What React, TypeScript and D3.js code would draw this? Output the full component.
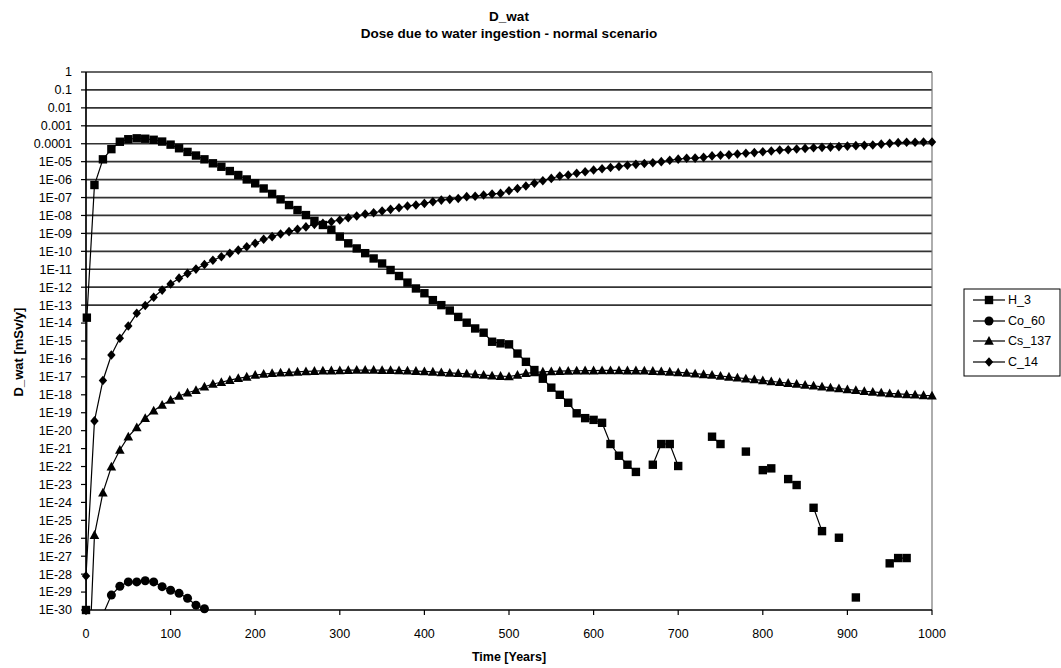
import React from 'react';
import * as d3 from 'd3';

// time axis, one row every 10 years
const years = [
  0, 10, 20, 30, 40, 50, 60, 70, 80, 90,
  100, 110, 120, 130, 140, 150, 160, 170, 180, 190,
  200, 210, 220, 230, 240, 250, 260, 270, 280, 290,
  300, 310, 320, 330, 340, 350, 360, 370, 380, 390,
  400, 410, 420, 430, 440, 450, 460, 470, 480, 490,
  500, 510, 520, 530, 540, 550, 560, 570, 580, 590,
  600, 610, 620, 630, 640, 650, 660, 670, 680, 690,
  700, 710, 720, 730, 740, 750, 760, 770, 780, 790,
  800, 810, 820, 830, 840, 850, 860, 870, 880, 890,
  900, 910, 920, 930, 940, 950, 960, 970, 980, 990,
  1000,
];

// H_3 has one extra early point (year 1)
const h3EarlyYear = 1;
const h3EarlyValue = 2e-14;

const h3 = [
  1e-30, 5.0e-7, 1.35e-5, 5.0e-5, 1.29e-4, 1.78e-4, 2.0e-4, 1.9e-4, 1.66e-4, 1.32e-4,
  8.9e-5, 5.6e-5, 3.5e-5, 2.2e-5, 1.35e-5, 8.1e-6, 5.2e-6, 3.0e-6, 1.8e-6, 1.02e-6,
  6.2e-7, 3.2e-7, 1.6e-7, 7.9e-8, 3.8e-8, 2.0e-8, 1.05e-8, 5.0e-9, 2.95e-9, 1.6e-9,
  6.6e-10, 2.8e-10, 1.45e-10, 7.9e-11, 4.0e-11, 2.1e-11, 9.1e-12, 4.2e-12, 1.8e-12, 8.5e-13,
  4.6e-13, 1.9e-13, 1.0e-13, 5.0e-14, 2.2e-14, 1.05e-14, 5.0e-15, 2.9e-15, 9.1e-16, 7.4e-16,
  6.5e-16, 2.0e-16, 6.9e-17, 2.4e-17, 7.9e-18, 2.5e-18, 1.0e-18, 3.6e-19, 9.3e-20, 5.0e-20,
  4.0e-20, 2.75e-20, 1.8e-21, 4.0e-22, 1.26e-22, 5.0e-23, null, 1.26e-22, 1.8e-21, 1.8e-21,
  1.07e-22, null, null, null, 4.6e-21, 1.8e-21, null, null, 6.8e-22, null,
  6.3e-23, 7.9e-23, null, 2.0e-23, 9.3e-24, null, 5.0e-25, 2.5e-26, null, 1.07e-26,
  null, 5.0e-30, null, null, null, 4.0e-28, 7.9e-28, 7.9e-28, null, null,
  null,
];

const co60 = [
  null, null, 5.6e-31, 6.8e-30, 2.1e-29, 3.7e-29, 3.7e-29, 4.3e-29, 3.7e-29, 2.0e-29,
  1.26e-29, 8.5e-30, 4.5e-30, 1.86e-30, 1.17e-30, 4.0e-31, null, null, null, null,
  null, null, null, null, null, null, null, null, null, null,
  null, null, null, null, null, null, null, null, null, null,
  null, null, null, null, null, null, null, null, null, null,
  null, null, null, null, null, null, null, null, null, null,
  null, null, null, null, null, null, null, null, null, null,
  null, null, null, null, null, null, null, null, null, null,
  null, null, null, null, null, null, null, null, null, null,
  null, null, null, null, null, null, null, null, null, null,
  null,
];

const cs137 = [
  1e-37, 1.5e-26, 3.5e-24, 9.8e-23, 8.3e-22, 4.6e-21, 1.5e-20, 4.9e-20, 1.3e-19, 2.7e-19,
  5.1e-19, 8.5e-19, 1.3e-18, 1.8e-18, 2.8e-18, 4.0e-18, 5.0e-18, 6.6e-18, 8.3e-18, 1.0e-17,
  1.26e-17, 1.45e-17, 1.58e-17, 1.7e-17, 1.78e-17, 1.9e-17, 2.0e-17, 2.1e-17, 2.2e-17, 2.24e-17,
  2.3e-17, 2.35e-17, 2.4e-17, 2.4e-17, 2.4e-17, 2.35e-17, 2.35e-17, 2.3e-17, 2.2e-17, 2.1e-17,
  2.0e-17, 1.9e-17, 1.78e-17, 1.66e-17, 1.58e-17, 1.48e-17, 1.38e-17, 1.26e-17, 1.17e-17, 1.1e-17,
  1.05e-17, 1.26e-17, 1.58e-17, 1.78e-17, 1.9e-17, 2.0e-17, 2.1e-17, 2.15e-17, 2.2e-17, 2.24e-17,
  2.24e-17, 2.3e-17, 2.3e-17, 2.3e-17, 2.24e-17, 2.24e-17, 2.2e-17, 2.1e-17, 2.0e-17, 1.9e-17,
  1.78e-17, 1.66e-17, 1.51e-17, 1.38e-17, 1.26e-17, 1.12e-17, 1.0e-17, 8.9e-18, 7.9e-18, 7.1e-18,
  6.3e-18, 5.6e-18, 5.0e-18, 4.5e-18, 4.0e-18, 3.5e-18, 3.2e-18, 2.8e-18, 2.5e-18, 2.24e-18,
  2.0e-18, 1.78e-18, 1.58e-18, 1.45e-18, 1.32e-18, 1.2e-18, 1.12e-18, 1.05e-18, 1.0e-18, 9.3e-19,
  8.9e-19,
];

const c14 = [
  7.9e-29, 3.5e-20, 6.3e-18, 1.66e-16, 1.41e-15, 6.8e-15, 3.5e-14, 9.5e-14, 2.75e-13, 6.9e-13,
  1.5e-12, 3.2e-12, 5.9e-12, 1.02e-11, 1.86e-11, 3.2e-11, 5.0e-11, 7.8e-11, 1.17e-10, 1.8e-10,
  2.8e-10, 4.7e-10, 6.6e-10, 9.3e-10, 1.26e-9, 1.7e-9, 2.3e-9, 3.2e-9, 3.6e-9, 4.5e-9,
  5.6e-9, 7.4e-9, 9.3e-9, 1.2e-8, 1.41e-8, 1.78e-8, 2.2e-8, 2.7e-8, 3.4e-8, 3.8e-8,
  4.7e-8, 5.9e-8, 7.2e-8, 7.9e-8, 8.9e-8, 1.12e-7, 1.17e-7, 1.38e-7, 1.58e-7, 1.7e-7,
  2.4e-7, 3.2e-7, 4.4e-7, 6.2e-7, 8.7e-7, 1.17e-6, 1.58e-6, 1.8e-6, 2.24e-6, 2.75e-6,
  3.4e-6, 4.0e-6, 4.7e-6, 5.4e-6, 6.3e-6, 7.1e-6, 7.9e-6, 8.7e-6, 1.0e-5, 1.2e-5,
  1.38e-5, 1.55e-5, 1.58e-5, 1.74e-5, 2.1e-5, 2.3e-5, 2.4e-5, 2.7e-5, 2.95e-5, 3.2e-5,
  3.6e-5, 3.9e-5, 4.5e-5, 4.6e-5, 5.1e-5, 5.5e-5, 6.0e-5, 6.3e-5, 6.5e-5, 6.9e-5,
  7.4e-5, 7.8e-5, 8.1e-5, 8.5e-5, 9.5e-5, 1.05e-4, 1.15e-4, 1.2e-4, 1.2e-4, 1.26e-4,
  1.26e-4,
];

const seriesNames = ['H_3', 'Co_60', 'Cs_137', 'C_14'];

const yTickLabels = [
  '1', '0.1', '0.01', '0.001', '0.0001', '1E-05', '1E-06', '1E-07', '1E-08', '1E-09',
  '1E-10', '1E-11', '1E-12', '1E-13', '1E-14', '1E-15', '1E-16', '1E-17', '1E-18', '1E-19',
  '1E-20', '1E-21', '1E-22', '1E-23', '1E-24', '1E-25', '1E-26', '1E-27', '1E-28', '1E-29',
  '1E-30',
];
const xTicks = [0, 100, 200, 300, 400, 500, 600, 700, 800, 900, 1000];

const W = 1061;
const H = 668;
const margin = { left: 86, right: 932, top: 72, bottom: 610 };
const font = '"Liberation Sans", Arial, sans-serif';

type Pt = { t: number; v: number | null };

const Marker = ({ kind, x, y }: { kind: number; x: number; y: number }) => {
  if (kind === 0) return <rect x={x - 4.2} y={y - 4.2} width={8.4} height={8.4} fill="#000" />;
  if (kind === 1) return <circle cx={x} cy={y} r={4.5} fill="#000" />;
  if (kind === 2)
    return <path d={`M${x},${y - 5}L${x + 4.8},${y + 3.8}L${x - 4.8},${y + 3.8}Z`} fill="#000" />;
  return <path d={`M${x},${y - 4.8}L${x + 4.2},${y}L${x},${y + 4.8}L${x - 4.2},${y}Z`} fill="#000" />;
};

export default function App() {
  const x = d3.scaleLinear().domain([0, 1000]).range([margin.left, margin.right]);
  const y = d3.scaleLog().domain([1e-30, 1]).range([margin.bottom, margin.top]);

  const toPts = (vals: (number | null)[]): Pt[] => years.map((t, i) => ({ t, v: vals[i] }));
  const h3Pts = toPts(h3);
  h3Pts.splice(1, 0, { t: h3EarlyYear, v: h3EarlyValue });
  const series: Pt[][] = [h3Pts, toPts(co60), toPts(cs137), toPts(c14)];

  const line = d3
    .line<Pt>()
    .defined((d) => d.v !== null && d.v > 0)
    .x((d) => x(d.t))
    .y((d) => y(d.v as number));

  // horizontal grid only runs from 1 down to 1E-13
  const gridVals = yTickLabels.slice(0, 14).map((_, i) => Math.pow(10, -i));
  const tickVals = yTickLabels.map((_, i) => Math.pow(10, -i));

  const legendX = 964;
  const legendY = 289;
  const legendRows = [300, 321, 341, 362];

  return (
    <svg
      width={W}
      height={H}
      style={{ position: 'fixed', left: 0, top: 0, background: '#fff' }}
      fontFamily={font}
    >
      <rect width={W} height={H} fill="#fff" />
      <defs>
        <clipPath id="plot-clip">
          <rect
            x={margin.left}
            y={margin.top - 6}
            width={margin.right - margin.left}
            height={margin.bottom - margin.top + 6}
          />
        </clipPath>
      </defs>

      {/* title */}
      <text x={509} y={21} textAnchor="middle" fontSize={13.5} fontWeight="bold">
        D_wat
      </text>
      <text x={509} y={38} textAnchor="middle" fontSize={13.5} fontWeight="bold">
        Dose due to water ingestion - normal scenario
      </text>

      {/* grid lines */}
      {gridVals.map((v, i) => (
        <line
          key={'g' + i}
          x1={margin.left}
          x2={margin.right}
          y1={y(v)}
          y2={y(v)}
          stroke="#333"
          strokeWidth={1.7}
        />
      ))}
      <line x1={margin.right} x2={margin.right} y1={margin.top} y2={margin.bottom} stroke="#777" strokeWidth={1.2} />

      {/* axes */}
      <line x1={margin.left} x2={margin.left} y1={margin.top} y2={margin.bottom} stroke="#000" strokeWidth={1.7} />
      <line x1={margin.left} x2={margin.right} y1={margin.bottom} y2={margin.bottom} stroke="#000" strokeWidth={1.7} />
      {tickVals.map((v, i) => (
        <g key={'yt' + i}>
          <line x1={margin.left - 5} x2={margin.left} y1={y(v)} y2={y(v)} stroke="#000" strokeWidth={1.2} />
          <text x={72} y={y(v)} dy="0.35em" textAnchor="end" fontSize={12.5}>
            {yTickLabels[i]}
          </text>
        </g>
      ))}
      {xTicks.map((t) => (
        <g key={'xt' + t}>
          <line x1={x(t)} x2={x(t)} y1={margin.bottom} y2={margin.bottom + 5} stroke="#000" strokeWidth={1.2} />
          <text x={x(t)} y={638} textAnchor="middle" fontSize={12.5}>
            {t}
          </text>
        </g>
      ))}

      <text x={509} y={661} textAnchor="middle" fontSize={12.5} fontWeight="bold">
        Time [Years]
      </text>
      <text
        transform={`translate(23,352) rotate(-90)`}
        textAnchor="middle"
        fontSize={13}
        fontWeight="bold"
      >
        D_wat [mSv/y]
      </text>

      {/* series */}
      {series.map((pts, si) => (
        <g key={'s' + si}>
          <path d={line(pts) || ''} fill="none" stroke="#000" strokeWidth={1.2} clipPath="url(#plot-clip)" />
          {pts
            .filter((d) => d.v !== null && (d.v as number) >= 0.999e-30)
            .map((d, j) => (
              <Marker key={j} kind={si} x={x(d.t)} y={y(d.v as number)} />
            ))}
        </g>
      ))}

      {/* legend */}
      <rect x={legendX} y={legendY} width={96} height={87} fill="#fff" stroke="#000" strokeWidth={1} />
      {seriesNames.map((name, i) => (
        <g key={'l' + i}>
          <line x1={973} x2={1005} y1={legendRows[i]} y2={legendRows[i]} stroke="#000" strokeWidth={1.2} />
          <Marker kind={i} x={989} y={legendRows[i]} />
          <text x={1008} y={legendRows[i]} dy="0.35em" fontSize={12.5}>
            {name}
          </text>
        </g>
      ))}
    </svg>
  );
}
